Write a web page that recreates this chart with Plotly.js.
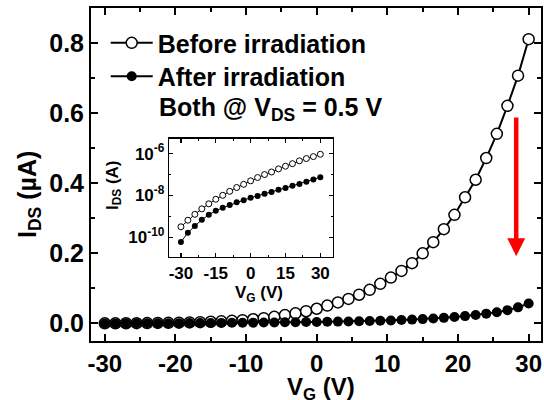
<!DOCTYPE html>
<html>
<head>
<meta charset="utf-8">
<script src="https://cdn.plot.ly/plotly-3.0.1.min.js"></script>
<style>html,body{margin:0;padding:0;background:#fff;}#chart{width:544px;height:400px;}</style>
</head>
<body>
<div id="chart"></div>
<script>
// Main panel: gate voltage (V) and drain current (µA)
const vgMain = [-30,-28.5,-27,-25.5,-24,-22.5,-21,-19.5,-18,-16.5,-15,-13.5,-12,-10.5,-9,-7.5,-6,-4.5,-3,-1.5,0,1.5,3,4.5,6,7.5,9,10.5,12,13.5,15,16.5,18,19.5,21,22.5,24,25.5,27,28.5,30];
const idsBefore = [0.0003,0.0005,0.0007,0.0009,0.0012,0.0015,0.0019,0.0024,0.003,0.0038,0.0048,0.006,0.0075,0.0095,0.012,0.015,0.019,0.024,0.029,0.035,0.042,0.051,0.06,0.07,0.082,0.096,0.113,0.131,0.15,0.172,0.2,0.232,0.269,0.31,0.36,0.41,0.472,0.541,0.621,0.707,0.811];
const idsAfter = [0.0001,0.0002,0.0003,0.0004,0.0005,0.0006,0.0008,0.0009,0.0011,0.0013,0.0015,0.0017,0.0019,0.0021,0.0024,0.0027,0.003,0.0033,0.0036,0.004,0.0044,0.0048,0.0053,0.0058,0.0064,0.007,0.0078,0.0087,0.0097,0.011,0.0125,0.014,0.016,0.0185,0.021,0.024,0.028,0.032,0.038,0.046,0.057];

// Inset: log scale drain current (A)
const vgInset = [-30,-27,-24,-21,-18,-15,-12,-9,-6,-3,0,3,6,9,12,15,18,21,24,27,30];
const insetBefore = [3.2e-10,6.6e-10,1.26e-9,2.3e-9,4.0e-9,6.6e-9,1.02e-8,1.58e-8,2.4e-8,3.4e-8,5.0e-8,7.2e-8,1.0e-7,1.32e-7,1.86e-7,2.5e-7,3.3e-7,4.5e-7,5.8e-7,7.2e-7,9.3e-7];
const insetAfter = [6.0e-11,1.66e-10,3.5e-10,6.9e-10,1.2e-9,1.86e-9,2.6e-9,3.5e-9,4.7e-9,6.0e-9,7.8e-9,9.5e-9,1.2e-8,1.48e-8,1.86e-8,2.3e-8,2.9e-8,3.5e-8,4.5e-8,5.75e-8,7.4e-8];

const mainXTicks = [-30,-20,-10,0,10,20,30];
const mainXTickText = ['-30','-20','-10','0','10','20','30'];
const mainYTicks = [0,0.2,0.4,0.6,0.8];
const mainYTickText = ['0.0','0.2','0.4','0.6','0.8'];
const insetXTicks = [-30,-15,0,15,30];
const insetXTickText = ['-30','-15','0','15','30'];
const insetYTicks = [1e-10,1e-8,1e-6];
const insetYTickText = ['10<sup>-10</sup>','10<sup>-8</sup>','10<sup>-6</sup>'];
const insetYMinor = [1e-11,1e-9,1e-7];

const FONT = 'Liberation Sans, Arial, sans-serif';

const traces = [
  {x: vgMain, y: idsBefore, name: 'Before irradiation', type: 'scatter', mode: 'lines+markers',
   line: {color: '#000', width: 2}, marker: {symbol: 'circle', size: 11, color: '#fff', line: {color: '#000', width: 1.5}},
   xaxis: 'x', yaxis: 'y', legend: 'legend'},
  {x: vgMain, y: idsAfter, name: 'After irradiation', type: 'scatter', mode: 'lines+markers',
   line: {color: '#000', width: 2}, marker: {symbol: 'circle', size: 10, color: '#000'},
   xaxis: 'x', yaxis: 'y', legend: 'legend2'},
  {x: vgInset, y: insetBefore, type: 'scatter', mode: 'lines+markers', showlegend: false,
   line: {color: '#000', width: 1}, marker: {symbol: 'circle', size: 6, color: '#fff', line: {color: '#000', width: 1}},
   xaxis: 'x2', yaxis: 'y2'},
  {x: vgInset, y: insetAfter, type: 'scatter', mode: 'lines+markers', showlegend: false,
   line: {color: '#000', width: 1}, marker: {symbol: 'circle', size: 6, color: '#000'},
   xaxis: 'x2', yaxis: 'y2'}
];

const axBase = {showline: true, linecolor: '#000', linewidth: 2, mirror: 'ticks', ticks: 'inside',
  tickcolor: '#000', showgrid: false, zeroline: false};

const legendBase = {xanchor: 'left', yanchor: 'middle', bgcolor: 'rgba(0,0,0,0)',
  font: {family: FONT, size: 25, color: '#000', weight: 'bold'}, itemwidth: 42};

const layout = {
  width: 544, height: 400,
  margin: {l: 91, r: 3, t: 8, b: 59},
  paper_bgcolor: '#fff', plot_bgcolor: '#fff',
  font: {family: FONT, color: '#000', size: 25, weight: 'bold'},
  showlegend: true,
  legend: Object.assign({}, legendBase, {x: 0.0327, y: 0.8947}),
  legend2: Object.assign({}, legendBase, {x: 0.0327, y: 0.7942}),
  xaxis: Object.assign({}, axBase, {range: [-31.95, 31.75], tickmode: 'array', tickvals: mainXTicks, ticktext: mainXTickText,
    ticklen: 7, tickwidth: 2, tickfont: {family: FONT, size: 24, weight: 'bold'},
    minor: {dtick: 5, tick0: 0, ticks: 'inside', ticklen: 4, tickwidth: 2, tickcolor: '#000'},
    domain: [0, 1], anchor: 'y'}),
  yaxis: Object.assign({}, axBase, {range: [-0.05, 0.9], tickmode: 'array', tickvals: mainYTicks, ticktext: mainYTickText,
    ticklen: 7, tickwidth: 2, tickfont: {family: FONT, size: 25, weight: 'bold'},
    minor: {dtick: 0.1, tick0: 0, ticks: 'inside', ticklen: 4, tickwidth: 2, tickcolor: '#000'},
    domain: [0, 1], anchor: 'x'}),
  xaxis2: Object.assign({}, axBase, {range: [-35, 35.3], tickmode: 'array', tickvals: insetXTicks, ticktext: insetXTickText,
    linewidth: 1.5, ticklen: 4, tickwidth: 1.2, tickfont: {family: FONT, size: 17, weight: 'bold'},
    minor: {dtick: 7.5, tick0: 0, ticks: 'inside', ticklen: 2, tickwidth: 1, tickcolor: '#000'},
    domain: [0.174, 0.537], anchor: 'y2'}),
  yaxis2: Object.assign({}, axBase, {type: 'log', range: [-10.93, -5.30], tickmode: 'array', tickvals: insetYTicks, ticktext: insetYTickText,
    linewidth: 1.5, ticklen: 4, tickwidth: 1.2, tickfont: {family: FONT, size: 17, weight: 'bold'},
    minor: {tickvals: insetYMinor, ticks: 'inside', ticklen: 2, tickwidth: 1, tickcolor: '#000'},
    domain: [0.2527, 0.6068], anchor: 'x2'}),
  annotations: [
    {text: 'V<sub>G</sub> (V)', xref: 'paper', yref: 'paper', x: 0.511, y: -0.143, xanchor: 'center', yanchor: 'middle',
     showarrow: false, font: {family: FONT, size: 24, weight: 'bold', color: '#000'}},
    {text: 'I<sub>DS</sub> (µA)', xref: 'paper', yref: 'paper', x: -0.138, y: 0.441, xanchor: 'center', yanchor: 'middle',
     textangle: -90, showarrow: false, font: {family: FONT, size: 25, weight: 'bold', color: '#000'}},
    {text: 'Both @ V<sub>DS</sub> = 0.5 V', xref: 'paper', yref: 'paper', x: 0.146, y: 0.697, xanchor: 'left', yanchor: 'middle',
     showarrow: false, font: {family: FONT, size: 25, weight: 'bold', color: '#000'}},
    {text: 'I<sub>DS</sub> (A)', xref: 'paper', yref: 'paper', x: 0.051, y: 0.468, xanchor: 'center', yanchor: 'middle',
     textangle: -90, showarrow: false, font: {family: FONT, size: 17, weight: 'bold', color: '#000'}},
    {text: 'V<sub>G</sub> (V)', xref: 'paper', yref: 'paper', x: 0.373, y: 0.14, xanchor: 'center', yanchor: 'middle',
     showarrow: false, font: {family: FONT, size: 17, weight: 'bold', color: '#000'}},
    {x: 28.24, y: 0.192, ax: 28.24, ay: 0.592, xref: 'x', yref: 'y', axref: 'x', ayref: 'y', text: '',
     showarrow: true, arrowhead: 2, arrowsize: 0.8, arrowwidth: 4.5, arrowcolor: '#ff0000'}
  ]
};

Plotly.newPlot('chart', traces, layout, {displayModeBar: false, staticPlot: true});
</script>
</body>
</html>
